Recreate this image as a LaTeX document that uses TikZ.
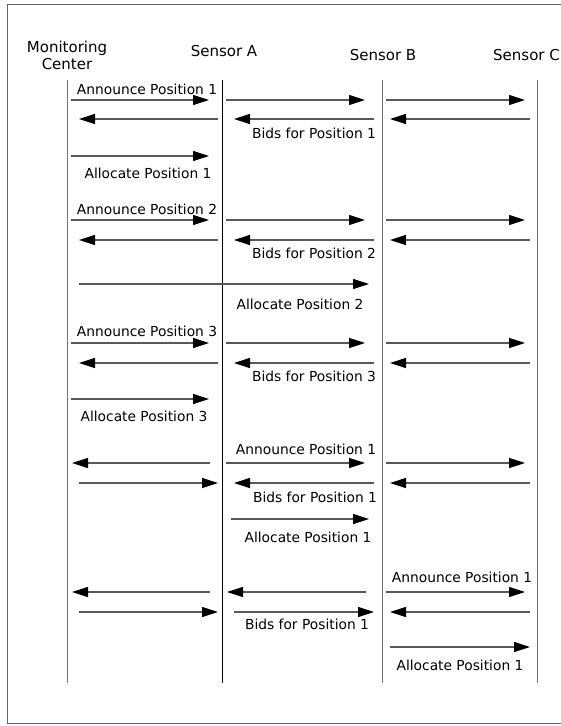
\documentclass[tikz,border=0pt]{standalone}
\usepackage{fontspec}
\setmainfont{DejaVu Sans}
\usetikzlibrary{arrows.meta}
\tikzset{
  msg/.style={->, line width=1.2pt, draw=black!65},
  life/.style={line width=1pt, draw=black!55},
  lbl/.style={font=\fontsize{13.8}{16}\selectfont, inner sep=0pt},
  head/.style={font=\fontsize{15}{17}\selectfont, inner sep=0pt}
}
\begin{document}
\begin{tikzpicture}[x=1pt, y=-1pt, >={Triangle[length=16pt, width=10pt, color=black]}]
  \useasboundingbox (0,0) rectangle (561,726);
  % frame
  \draw[black!60, line width=1pt] (7,4) rectangle (575,723);

  % lifelines
  \foreach \n/\x in {mc/67, sa/222, sb/382, sc/537} {
    \coordinate (\n top) at (\x,80);
    \coordinate (\n bot) at (\x,683);
  }
  \draw[life] (mctop) -- (mcbot);
  \draw[life, draw=black] (satop) -- (sabot);
  \draw[life] (sbtop) -- (sbbot);
  \draw[life] (sctop) -- (scbot);

  \node[head, align=center] (mchead) at (67,55) {Monitoring\\Center};
  \node[head] (sahead) at (224,51) {Sensor A};
  \node[head] (sbhead) at (383,55) {Sensor B};
  \node[head, anchor=west] (schead) at (493,55) {Sensor C};

  % position 1
  \foreach \a/\b/\y in {71/209/100, 226/365/100, 386/525/100,
                        218/79/119, 374/234/119, 530/390/119, 71/209/156}
    \draw[msg] (\a,\y) -- (\b,\y);
  \node[lbl] (ann1) at (147,89) {Announce Position 1};
  \node[lbl] (bid1) at (314,133) {Bids for Position 1};
  \node[lbl] (all1) at (148,173) {Allocate Position 1};

  % position 2
  \foreach \a/\b/\y in {71/209/220, 226/365/220, 386/525/220,
                        218/79/240, 374/234/240, 530/390/240, 79/369/284}
    \draw[msg] (\a,\y) -- (\b,\y);
  \node[lbl] (ann2) at (147,209) {Announce Position 2};
  \node[lbl] (bid2) at (314,253) {Bids for Position 2};
  \node[lbl] (all2) at (300,304) {Allocate Position 2};

  % position 3
  \foreach \a/\b/\y in {71/209/343, 226/365/343, 386/525/343,
                        218/79/363, 374/234/363, 530/390/363, 71/209/399}
    \draw[msg] (\a,\y) -- (\b,\y);
  \node[lbl] (ann3) at (147,331) {Announce Position 3};
  \node[lbl] (bid3) at (314,376) {Bids for Position 3};
  \node[lbl] (all3) at (144,416) {Allocate Position 3};

  % sensor A announces
  \foreach \a/\b/\y in {210/72/463, 226/365/463, 386/525/463,
                        79/218/483, 374/234/483, 530/390/483, 231/369/519}
    \draw[msg] (\a,\y) -- (\b,\y);
  \node[lbl] (annA) at (306,449) {Announce Position 1};
  \node[lbl] (bidA) at (315,497) {Bids for Position 1};
  \node[lbl] (allA) at (308,537) {Allocate Position 1};

  % sensor B announces
  \foreach \a/\b/\y in {210/72/592, 366/227/592, 386/525/592,
                        79/218/612, 234/374/612, 530/390/612, 390/530/647}
    \draw[msg] (\a,\y) -- (\b,\y);
  \node[lbl] (annB) at (462,577) {Announce Position 1};
  \node[lbl] (bidB) at (307,624) {Bids for Position 1};
  \node[lbl] (allB) at (460,665) {Allocate Position 1};
\end{tikzpicture}
\end{document}
